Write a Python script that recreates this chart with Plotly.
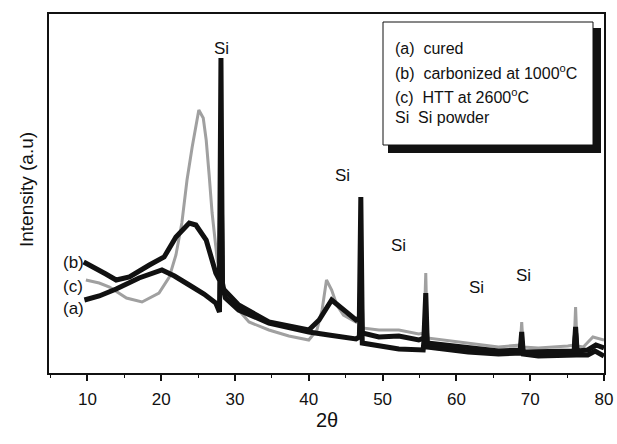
import plotly.graph_objects as go

# ---- data (intensity in arbitrary units) ----
two_theta_a = [9.6, 11.6, 13.9, 17.0, 20.1, 21.8, 23.8, 25.8, 27.4, 27.9, 28.1, 28.3, 28.7,
               30.5, 34.6, 40.0, 42.7, 46.4, 46.85, 47.05, 47.25, 49.5, 52.2, 55.5, 55.85, 56.05,
               61.6, 65.7, 68.65, 68.85, 69.05, 71.1, 75.1, 75.95, 76.15, 76.35, 77.8, 78.8, 80.0]
int_a = [73, 77, 84, 95, 103, 97, 88, 79, 70, 61, 200, 90, 75,
         63, 50, 41, 38, 34, 36, 95, 30, 27, 24, 23, 55, 26,
         21, 19, 20, 32, 19, 17, 17, 18, 40, 18, 18, 22, 17]

two_theta_b = [9.5, 10.9, 12.5, 13.9, 15.7, 18.4, 20.4, 22.0, 23.0, 23.8, 24.7, 26.1, 27.4,
               27.9, 28.1, 28.3, 30.5, 34.6, 40.0, 41.4, 43.1, 44.7, 46.4, 46.85, 47.05,
               47.25, 49.5, 52.2, 54.9, 55.6, 55.85, 56.05, 61.6, 65.7, 68.65, 68.85, 69.05,
               71.1, 75.1, 75.95, 76.15, 76.35, 77.8, 78.9, 80.0]
int_b = [111, 106, 99, 93, 96, 108, 116, 136, 144, 150, 148, 133, 100,
         93, 315, 85, 68, 51, 43, 53, 73, 63, 53, 55, 176,
         40, 36, 37, 33, 35, 80, 30, 25, 22, 23, 41, 21,
         21, 21, 22, 46, 22, 23, 28, 25]

two_theta_c = [9.8, 11.6, 13.0, 15.3, 17.4, 19.7, 21.1, 22.0, 22.8, 23.5, 24.2, 25.1, 25.7,
               26.1, 26.5, 26.9, 27.6, 27.9, 28.1, 28.3, 29.9, 31.9, 34.6, 37.3, 40.0,
               41.1, 41.8, 42.4, 43.1, 43.8, 44.7, 46.4, 46.85, 47.05, 47.25, 49.5, 52.2,
               54.9, 55.6, 55.85, 56.05, 61.6, 65.7, 68.65, 68.85, 69.05, 71.1, 75.1,
               75.95, 76.15, 76.35, 77.2, 78.5, 80.0]
int_c = [93, 90, 86, 75, 71, 80, 96, 118, 150, 193, 226, 263, 255,
         233, 198, 160, 113, 100, 280, 83, 68, 51, 43, 37, 33,
         43, 63, 93, 83, 68, 58, 51, 55, 123, 45, 43, 43,
         39, 40, 100, 35, 30, 26, 28, 51, 26, 25, 27,
         28, 66, 27, 26, 36, 33]

x_ticks = [10, 20, 30, 40, 50, 60, 70, 80]

si_label_x = [28.2, 44.5, 52.2, 62.7, 69.1]
si_label_y = [325, 198, 128, 86, 98]

curve_labels = ["(b)", "(c)", "(a)"]
curve_label_y = [111, 87, 65]

legend_lines = ["(a)  cured",
                "(b)  carbonized at 1000<sup>o</sup>C",
                "(c)  HTT at 2600<sup>o</sup>C",
                "Si  Si powder"]

FONT = "Liberation Sans, Arial, Helvetica, sans-serif"

fig = go.Figure()
fig.add_trace(go.Scatter(x=two_theta_c, y=int_c, mode="lines",
                         line=dict(color="#a0a0a0", width=3), name="(c)"))
fig.add_trace(go.Scatter(x=two_theta_a, y=int_a, mode="lines",
                         line=dict(color="#111111", width=5), name="(a)"))
fig.add_trace(go.Scatter(x=two_theta_b, y=int_b, mode="lines",
                         line=dict(color="#111111", width=5), name="(b)"))

annotations = []
for xv, yv in zip(si_label_x, si_label_y):
    annotations.append(dict(x=xv, y=yv, xref="x", yref="y", text="Si", showarrow=False,
                            font=dict(family=FONT, size=17, color="#111")))
for t, yv in zip(curve_labels, curve_label_y):
    annotations.append(dict(x=8.1, y=yv, xref="x", yref="y", text=t, showarrow=False,
                            font=dict(family=FONT, size=17, color="#111")))


def px_to_paper_x(px):
    return (px - 49) / 555.0


def py_to_paper_y(py):
    return (373 - py) / 359.0


legend_py = [48, 72, 96, 118]
for t, py in zip(legend_lines, legend_py):
    annotations.append(dict(x=px_to_paper_x(393), y=py_to_paper_y(py), xref="paper", yref="paper",
                            text=t, showarrow=False, xanchor="left", yanchor="middle",
                            font=dict(family=FONT, size=16, color="#111")))

annotations.append(dict(x=0.5, y=py_to_paper_y(433), xref="paper", yref="paper", text="2θ",
                        showarrow=False, font=dict(family=FONT, size=20, color="#111")))
annotations.append(dict(x=px_to_paper_x(26), y=py_to_paper_y(190), xref="paper", yref="paper",
                        text="Intensity (a.u)", textangle=-90, showarrow=False,
                        xanchor="center", yanchor="middle",
                        font=dict(family=FONT, size=19, color="#111")))

shapes = [
    dict(type="rect", xref="paper", yref="paper",
         x0=px_to_paper_x(388), x1=px_to_paper_x(601), y0=py_to_paper_y(153), y1=py_to_paper_y(28),
         fillcolor="#111", line=dict(width=0)),
    dict(type="rect", xref="paper", yref="paper",
         x0=px_to_paper_x(383), x1=px_to_paper_x(593), y0=py_to_paper_y(145), y1=py_to_paper_y(22),
         fillcolor="white", line=dict(color="#111", width=1)),
]

fig.update_layout(
    width=617, height=444,
    margin=dict(l=49, r=13, t=14, b=71, autoexpand=False),
    paper_bgcolor="white", plot_bgcolor="white",
    showlegend=False,
    font=dict(family=FONT, color="#111"),
    annotations=annotations, shapes=shapes,
    xaxis=dict(range=[4.8, 80], tickvals=x_ticks, ticks="outside", ticklen=6, tickwidth=1.5,
               tickcolor="#111", showline=True, linewidth=2, linecolor="#111", mirror=True,
               showgrid=False, zeroline=False, tickfont=dict(size=17, family=FONT),
               ticklabelstandoff=4, ticklabeloverflow="allow", automargin=False,
               minor=dict(ticks="outside", ticklen=3, tickwidth=1, tickcolor="#111",
                          tick0=5, dtick=5)),
    yaxis=dict(range=[0, 359], showticklabels=False, ticks="", showline=True, linewidth=2,
               linecolor="#111", mirror=True, showgrid=False, zeroline=False, automargin=False),
)

fig.write_html("out.html", config={"displayModeBar": False},
               post_script="document.body.style.margin='0';document.body.style.padding='0';")
